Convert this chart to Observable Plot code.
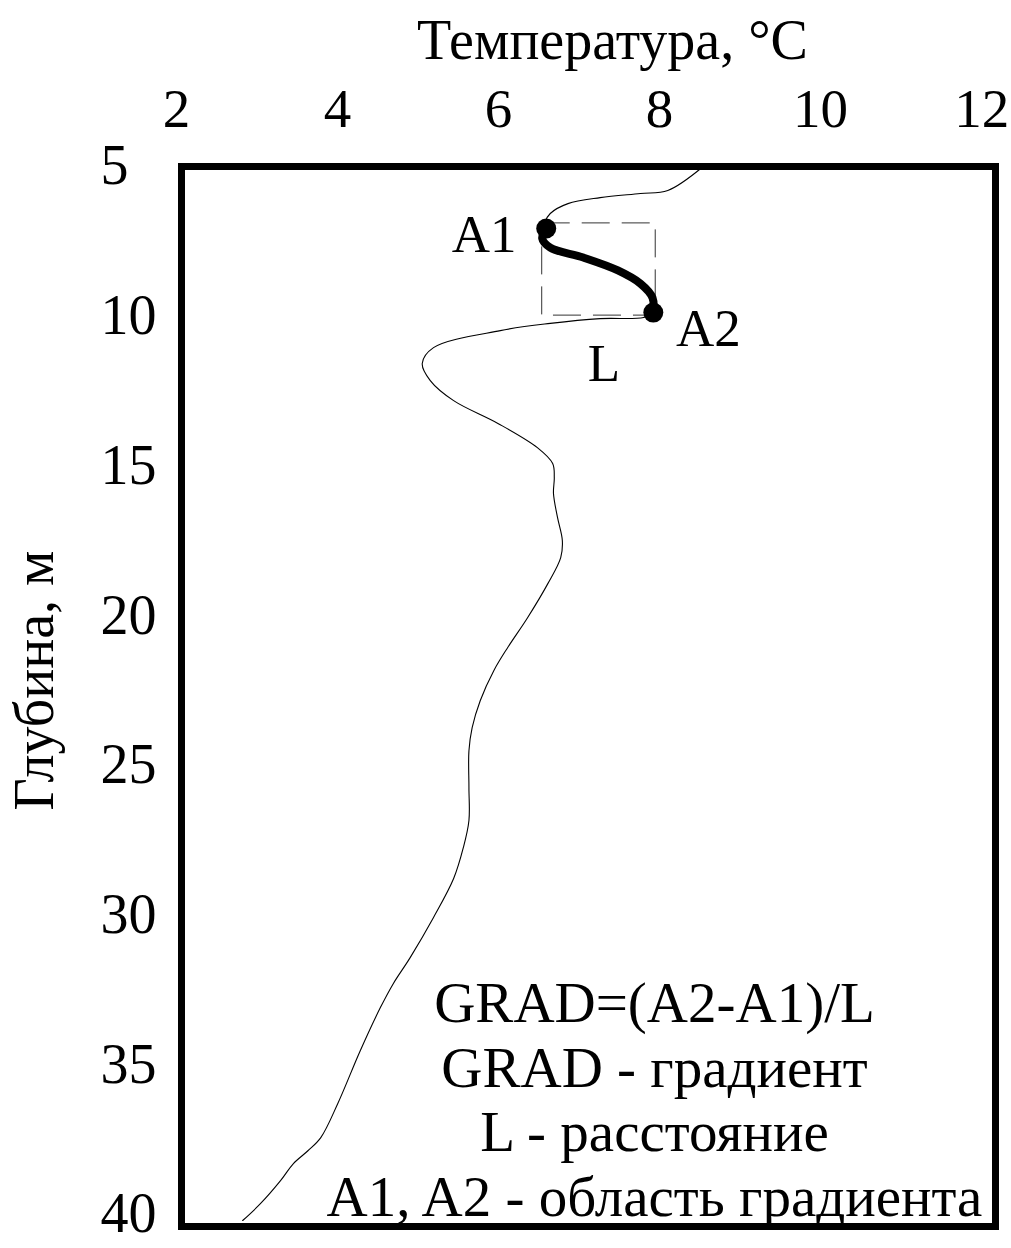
<!DOCTYPE html>
<html>
<head>
<meta charset="utf-8">
<script src="https://cdn.jsdelivr.net/npm/d3@7"></script>
<script src="https://cdn.jsdelivr.net/npm/@observablehq/plot@0.6"></script>
<style>
  html, body { margin: 0; padding: 0; background: #fff; }
  svg { display: block; }
</style>
</head>
<body>
<div id="chart"></div>
<script>
// Temperature profile (°C) vs depth (m)
const profileTemperature = [
  8.48, 8.04, 7.70, 7.20, 6.80, 6.58, 6.52, 6.53,
  6.48, 6.58, 6.99, 7.42, 7.70, 7.85, 7.86,
  7.74, 7.20, 6.58, 5.96, 5.13, 4.99, 5.09, 5.38, 5.93, 6.42,
  6.61, 6.63, 6.62, 6.67, 6.73, 6.71, 6.55, 6.30, 6.05, 5.88,
  5.71, 5.61, 5.57, 5.57, 5.57, 5.50, 5.38, 5.13, 4.84, 4.63,
  4.47, 4.22, 3.94, 3.73, 3.57, 3.39, 3.23, 2.98, 2.76
];
const profileDepth = [
  5.00, 5.80, 5.90, 6.04, 6.24, 6.57, 6.84, 7.07,
  7.40, 7.71, 8.04, 8.47, 8.91, 9.38, 9.88,
  10.04, 10.08, 10.24, 10.48, 11.05, 11.58, 12.15, 12.82, 13.58, 14.39,
  14.92, 15.39, 15.92, 16.72, 17.49, 18.06, 18.93, 20.06, 21.07, 21.83,
  22.84, 23.74, 24.51, 25.74, 26.84, 27.75, 28.78, 30.08, 31.42, 32.29,
  33.09, 34.53, 36.30, 37.43, 37.87, 38.30, 38.87, 39.64, 40.20
];
// Gradient region A1 -> A2
const gradTemperature = [6.53, 6.48, 6.58, 6.99, 7.42, 7.70, 7.85, 7.86];
const gradDepth       = [7.07, 7.40, 7.71, 8.04, 8.47, 8.91, 9.38, 9.88];
const pointLabels = ["A1", "A2"];
// Dashed box around the gradient region
const boxTemperature = [6.48, 7.89];
const boxDepth = [6.90, 9.98];
const boxLabel = "L";

const xTicks = [2, 4, 6, 8, 10, 12];
const yTicks = [5, 10, 15, 20, 25, 30, 35, 40];
const xTitle = "Температура, °C";
const yTitle = "Глубина, м";
const notes = [
  "GRAD=(A2-A1)/L",
  "GRAD - градиент",
  "L - расстояние",
  "A1, A2 - область градиента"
];

const profile = profileTemperature.map((t, i) => ({t, d: profileDepth[i]}));
const grad = gradTemperature.map((t, i) => ({t, d: gradDepth[i]}));
const ends = [
  {t: grad[0].t, d: grad[0].d, label: pointLabels[0]},
  {t: grad[grad.length - 1].t, d: grad[grad.length - 1].d, label: pointLabels[1]}
];
const box = [{x1: boxTemperature[0], x2: boxTemperature[1], y1: boxDepth[0], y2: boxDepth[1], label: boxLabel}];

const FONT = "'Liberation Serif', 'Times New Roman', Times, serif";

const chart = Plot.plot({
  width: 1011,
  height: 1248,
  marginLeft: 181,
  marginRight: 16,
  marginTop: 166,
  marginBottom: 22,
  style: {fontFamily: FONT, background: "#fff", color: "#000"},
  x: {domain: [2, 12.11]},
  y: {domain: [5, 40.4], reverse: true},
  marks: [
    Plot.rect(box, {x1: "x1", x2: "x2", y1: "y1", y2: "y2", fill: "none", stroke: "#333", strokeWidth: 1, strokeDasharray: "28,12"}),
    Plot.line(profile, {x: "t", y: "d", curve: "catmull-rom", stroke: "#000", strokeWidth: 1.1}),
    Plot.line(grad, {x: "t", y: "d", curve: "catmull-rom", stroke: "#000", strokeWidth: 8, strokeLinecap: "round", strokeLinejoin: "round"}),
    Plot.dot(ends, {x: "t", y: "d", r: 10, fill: "#000", stroke: "none"}),
    Plot.text([ends[0]], {x: "t", y: "d", text: "label", dx: -62, dy: 7, fontSize: 53, fill: "#000"}),
    Plot.text([ends[1]], {x: "t", y: "d", text: "label", dx: 55, dy: 16, fontSize: 53, fill: "#000"}),
    Plot.text(box, {x: d => (d.x1 + d.x2) / 2, y: "y2", text: "label", dx: 5, dy: 48, fontSize: 53, fill: "#000"}),
    Plot.frame({stroke: "#000", strokeWidth: 7}),
    Plot.axisX(xTicks, {anchor: "top", tickSize: 0, tickPadding: 57, lineAnchor: "middle", dx: -5, fontSize: 55, label: null, fill: "#000"}),
    Plot.axisY(yTicks, {anchor: "left", tickSize: 0, tickPadding: 81, textAnchor: "start", fontSize: 56, label: null, fill: "#000"}),
    Plot.text([xTitle], {text: d => d, frameAnchor: "top", textAnchor: "middle", dx: 24, dy: -125, lineAnchor: "middle", fontSize: 56, fill: "#000"}),
    Plot.text([yTitle], {text: d => d, frameAnchor: "left", textAnchor: "middle", dx: -146, dy: -16, rotate: -90, lineAnchor: "middle", fontSize: 56, fill: "#000"}),
    Plot.text([notes.join("\n")], {text: d => d, frameAnchor: "bottom", textAnchor: "middle", dx: 66, dy: -11, lineAnchor: "bottom", lineHeight: 1.13, fontSize: 57, fill: "#000"})
  ]
});
document.getElementById("chart").appendChild(chart);
</script>
</body>
</html>
